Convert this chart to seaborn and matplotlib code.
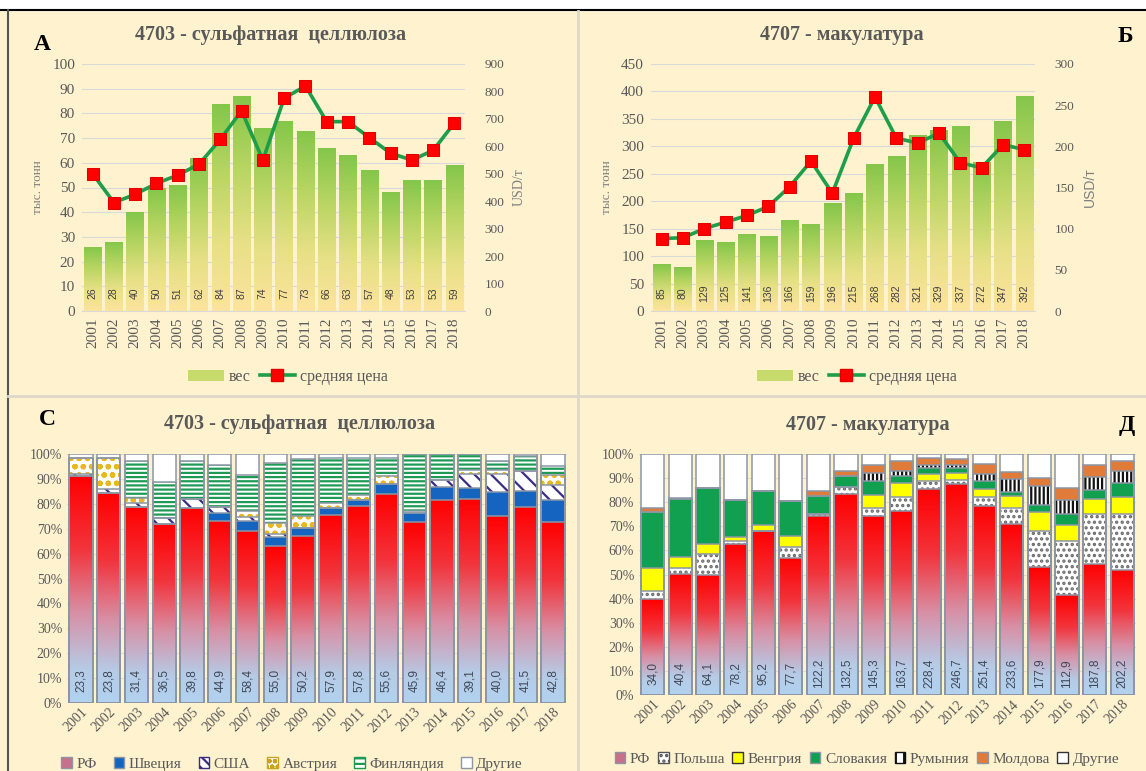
import matplotlib
matplotlib.use("Agg")
import matplotlib.pyplot as plt
import seaborn as sns
import numpy as np
from matplotlib.colors import LinearSegmentedColormap
from matplotlib.patches import Patch, Rectangle
from matplotlib.lines import Line2D

# Data
years = [str(y) for y in range(2001, 2019)]

# 4703 - сульфатная целлюлоза (тыс. тонн, USD/т)
pulp_weight = [26, 28, 40, 50, 51, 62, 84, 87, 74, 77, 73, 66, 63, 57, 48, 53, 53, 59]
pulp_price = [500, 395, 425, 465, 495, 535, 625, 730, 550, 775, 820, 690, 690, 632, 575, 550, 585, 685]

# 4707 - макулатура
waste_weight = [85, 80, 129, 125, 141, 136, 166, 159, 196, 215, 268, 282, 321, 329, 337, 272, 347, 392]
waste_price = [88, 89, 100, 108, 116, 127, 151, 182, 143, 210, 260, 210, 204, 216, 180, 174, 202, 196]

# shares of suppliers, % (pulp)
pulp_rf = [91, 84.3, 78.7, 72, 78.3, 73, 69.2, 63, 67.2, 75.6, 79, 84, 72.6, 81.7, 82, 75.2, 78.7, 72.6]
pulp_se = [0, 0, 0, 0, 0, 3.3, 3.8, 3.7, 3.1, 2.7, 2.7, 4, 3.7, 5, 4.3, 9.4, 6.3, 9.1]
pulp_us = [1, 1.7, 1.6, 2.3, 3.7, 2.4, 1.7, 1.3, 0, 0, 0, 0, 0, 3, 5.7, 7.5, 8, 6]
pulp_at = [6.5, 12.4, 2, 0, 0, 0, 2.3, 4.3, 4.9, 2, 2, 3, 0.7, 0, 1.4, 1.6, 0, 4]
pulp_fi = [0, 0, 15, 14.3, 15.3, 16.7, 14.7, 24.1, 22.8, 18.1, 14.7, 7.4, 23, 10.3, 6.6, 3.6, 6, 3.6]
pulp_other = [1.5, 1.6, 2.7, 11.4, 2.7, 4.6, 8.3, 3.6, 2, 1.6, 1.6, 1.6, 0, 0, 0, 2.7, 1, 4.7]
pulp_rf_labels = ["23,3", "23,8", "31,4", "36,5", "39,8", "44,9", "58,4", "55,0", "50,2",
                  "57,9", "57,8", "55,6", "45,9", "46,4", "39,1", "40,0", "41,5", "42,8"]

# shares of suppliers, % (waste paper)
waste_rf = [39.8, 50.3, 49.9, 62.7, 67.9, 57, 74.1, 83.4, 74.4, 76.2, 85.5, 87.7, 78.5, 71, 53, 41.3, 54.4, 51.7]
waste_pl = [3.2, 2.3, 8.7, 1, 0, 4.6, 0.9, 2.9, 3.2, 5.8, 3.1, 1.6, 3.6, 6.6, 14.9, 22.4, 20.7, 23.4]
waste_hu = [9.6, 4.6, 4, 1.8, 2.7, 4.4, 0, 0, 5.5, 5.9, 3.2, 2.8, 3.4, 4.8, 7.9, 6.9, 6.2, 6.9]
waste_sk = [23.2, 24.1, 23.3, 15.5, 13.9, 14.3, 7.7, 4.7, 5.5, 3.1, 2.4, 2.1, 3.1, 1.7, 3.1, 4.5, 3.9, 5.9]
waste_ro = [0, 0, 0, 0, 0, 0, 0, 0, 3.5, 2.1, 1.4, 1.4, 3.2, 5.7, 7.9, 5.9, 5.2, 5.2]
waste_md = [2, 0.4, 0, 0, 0, 0, 1.8, 2, 3.5, 4.1, 2.7, 2.3, 4, 2.7, 3.2, 4.9, 5.2, 3.9]
waste_other = [22.2, 18.3, 14.1, 19, 15.5, 19.7, 15.5, 7, 4.4, 2.8, 1.7, 2.1, 4.2, 7.5, 10, 14.1, 4.4, 3]
waste_rf_labels = ["34,0", "40,4", "64,1", "78,2", "95,2", "77,7", "122,2", "132,5", "145,3",
                   "163,7", "228,4", "246,7", "251,4", "233,6", "177,9", "112,9", "187,8", "202,2"]

# Style
BG = "#FEF2CF"
TXT = "#595959"
SERIF = "Liberation Serif"
plt.rcParams["font.family"] = SERIF
plt.rcParams["hatch.linewidth"] = 1.6

green_cmap = LinearSegmentedColormap.from_list("gy", ["#FDE49E", "#E6E085", "#B8D562", "#84C64A"])
rf_cmap = LinearSegmentedColormap.from_list(
    "rf", [(0, "#B1D2F0"), (0.15, "#B6CBE6"), (0.4, "#D88FA4"), (0.68, "#F2343C"), (1, "#FF0000")])
ramp = np.linspace(0, 1, 256).reshape(-1, 1)


def gradient_fill(ax, patches, cmap):
    xl, yl = ax.get_xlim(), ax.get_ylim()
    for p in patches:
        x0, y0, w, h = p.get_x(), p.get_y(), p.get_width(), p.get_height()
        if h <= 0:
            continue
        im = ax.imshow(ramp, cmap=cmap, origin="lower", aspect="auto",
                       extent=(x0, x0 + w, y0, y0 + h), zorder=p.get_zorder(),
                       interpolation="bilinear")
        im.set_clip_path(p)
        p.set_facecolor("none")
    ax.set_xlim(xl)
    ax.set_ylim(yl)


fig = plt.figure(figsize=(11.46, 7.71), dpi=100)
fig.patch.set_facecolor(BG)

# frame / separators
fig.add_artist(Rectangle((0, 1 - 10 / 771), 1, 10 / 771, transform=fig.transFigure, color="white", zorder=0))
fig.add_artist(Line2D([0, 1], [1 - 10 / 771] * 2, transform=fig.transFigure, color="black", lw=1.5))
fig.add_artist(Line2D([8 / 1146] * 2, [0, 1 - 10 / 771], transform=fig.transFigure, color="#555555", lw=1.5))
fig.add_artist(Line2D([8 / 1146, 1], [1 - 396 / 771] * 2, transform=fig.transFigure, color="#DDD8CA", lw=2))
fig.add_artist(Line2D([578 / 1146] * 2, [0, 1 - 11 / 771], transform=fig.transFigure, color="#DDD8CA", lw=2))


def weight_panel(rect, weight, price, ymax, ystep, pmax, pstep, label_y, sans_right=False):
    ax = fig.add_axes(rect)
    ax.set_facecolor("none")
    sns.barplot(x=years, y=weight, ax=ax, color="#A9D15C", saturation=1, width=0.82,
                linewidth=0, errorbar=None)
    ax.set_ylim(0, ymax)
    gradient_fill(ax, list(ax.patches), green_cmap)
    ax.set_yticks(np.arange(0, ymax + 1, ystep))
    ax.yaxis.grid(True, color="#D9D9D9", lw=0.8)
    ax.set_axisbelow(True)
    for s in ["top", "right", "left"]:
        ax.spines[s].set_visible(False)
    ax.spines["bottom"].set_color("#D9D9D9")
    ax.tick_params(length=0, labelsize=11, labelcolor=TXT, pad=5)
    ax.tick_params(axis="x", rotation=90)
    ax.set_xlabel("")
    ax.set_ylabel("тыс. тонн", fontsize=9.5, color="#7F7F7F", labelpad=6)
    for i, v in enumerate(weight):
        ax.text(i, label_y, str(v), rotation=90, ha="center", va="center",
                fontsize=7.5, color="#404040", family="Liberation Sans")

    ax2 = ax.twinx()
    sns.lineplot(x=np.arange(len(years)), y=price, ax=ax2, color="#1E9E48", lw=2.6,
                 marker="s", markersize=9, markerfacecolor="#FF0000", markeredgecolor="#E00000")
    ax2.set_ylim(0, pmax)
    ax2.set_yticks(np.arange(0, pmax + 1, pstep))
    for s in ax2.spines.values():
        s.set_visible(False)
    ax2.tick_params(length=0, labelsize=9.5, labelcolor=TXT, pad=14)
    ax2.set_ylabel("USD/т", fontsize=10, color="#7F7F7F", labelpad=6,
                   family="Liberation Sans" if sans_right else SERIF)
    ax.set_xlim(-0.5, len(years) - 0.5)
    return ax


axA = weight_panel([82 / 1146, 1 - 311 / 771, 383 / 1146, 247 / 771],
                   pulp_weight, pulp_price, 100, 10, 900, 100, 7.3)
axB = weight_panel([651 / 1146, 1 - 311 / 771, 384 / 1146, 247 / 771],
                   waste_weight, waste_price, 450, 50, 300, 50, 33, sans_right=True)

leg_handles = [Patch(facecolor="#C6DB6C", edgecolor="none"),
               Line2D([], [], color="#1E9E48", lw=2.6, marker="s", markersize=9,
                      markerfacecolor="#FF0000", markeredgecolor="#E00000")]
for cx in [288 / 1146, 857 / 1146]:
    fig.legend(leg_handles, ["вес", "средняя цена"], loc="center", bbox_to_anchor=(cx, 1 - 377 / 771),
               ncol=2, frameon=False, fontsize=11.5, handlelength=2.2, columnspacing=0.6,
               handletextpad=0.3, labelcolor=TXT)


def share_panel(rect, layers, styles, rf_labels, label_y):
    ax = fig.add_axes(rect)
    ax.set_facecolor("none")
    cum = np.cumsum(np.array(layers, dtype=float), axis=0)
    rf_patches = []
    # draw from the top of the stack down so that each layer covers the one above
    for k in range(len(layers) - 1, -1, -1):
        face, hatch, hcol = styles[k]
        n0 = len(ax.patches)
        sns.barplot(x=years, y=cum[k], ax=ax, color=face, saturation=1, width=0.84,
                    edgecolor=hcol, hatch=hatch, linewidth=0, errorbar=None)
        if k == 0:
            rf_patches = list(ax.patches[n0:])
    ax.set_ylim(0, 100)
    gradient_fill(ax, rf_patches, rf_cmap)
    # segment outlines
    for k in range(len(layers)):
        sns.barplot(x=years, y=cum[k], ax=ax, color="#8C96A5", saturation=1, width=0.84,
                    fill=False, linewidth=1.1, errorbar=None)
    ax.set_ylim(0, 100)
    ax.set_xlim(-0.5, len(years) - 0.5)
    ax.set_yticks(np.arange(0, 101, 10))
    ax.set_yticklabels([f"{v}%" for v in range(0, 101, 10)])
    ax.yaxis.grid(True, color="#E4DCC4", lw=0.8)
    ax.set_axisbelow(True)
    for s in ax.spines.values():
        s.set_visible(False)
    ax.tick_params(length=0, labelsize=10, labelcolor=TXT)
    ax.tick_params(axis="x", pad=2)
    for lab in ax.get_xticklabels():
        lab.set_rotation(45)
        lab.set_ha("right")
        lab.set_rotation_mode("anchor")
    ax.set_xlabel("")
    ax.set_ylabel("")
    for i, t in enumerate(rf_labels):
        ax.text(i, label_y, t, rotation=90, ha="center", va="center",
                fontsize=8.5, color="#3F4756", family="Liberation Sans", zorder=5)
    return ax


pulp_styles = [("#FF0000", "", "#FF0000"),
               ("#1565C0", "", "#1565C0"),
               ("white", "\\\\", "#3B2C84"),
               ("white", "oo", "#E8B81E"),
               ("white", "----", "#1E9A55"),
               ("white", "", "white")]
share_panel([67 / 1146, 1 - 703 / 771, 500 / 1146, 249 / 771],
            [pulp_rf, pulp_se, pulp_us, pulp_at, pulp_fi, pulp_other],
            pulp_styles, pulp_rf_labels, 9)

waste_styles = [("#FF0000", "", "#FF0000"),
                ("white", "...", "#6A6A6A"),
                ("#FFFF00", "", "#FFFF00"),
                ("#10A050", "", "#10A050"),
                ("white", "||||", "#111111"),
                ("#E07B39", "", "#E07B39"),
                ("white", "", "white")]
share_panel([639 / 1146, 1 - 695 / 771, 497 / 1146, 241 / 771],
            [waste_rf, waste_pl, waste_hu, waste_sk, waste_ro, waste_md, waste_other],
            waste_styles, waste_rf_labels, 9)

# legends of the share panels
edge = "#8C96A5"
pulp_handles = [Patch(facecolor="#C8708A", edgecolor=edge),
                Patch(facecolor="#1565C0", edgecolor=edge),
                Patch(facecolor="white", edgecolor="#3B2C84", hatch="\\\\\\"),
                Patch(facecolor="white", edgecolor="#C9A21E", hatch="ooo"),
                Patch(facecolor="white", edgecolor="#1E9A55", hatch="---"),
                Patch(facecolor="white", edgecolor=edge)]
fig.legend(pulp_handles, ["РФ", "Швеция", "США", "Австрия", "Финляндия", "Другие"],
           loc="center", bbox_to_anchor=(292 / 1146, 1 - 764 / 771), ncol=6, frameon=False,
           fontsize=11, handlelength=0.7, handleheight=0.7, handletextpad=0.3,
           columnspacing=1.1, labelcolor=TXT)

waste_handles = [Patch(facecolor="#C8708A", edgecolor=edge),
                 Patch(facecolor="white", edgecolor="#555555", hatch="..."),
                 Patch(facecolor="#FFFF00", edgecolor="#333333"),
                 Patch(facecolor="#10A050", edgecolor=edge),
                 Patch(facecolor="white", edgecolor="#111111", hatch="||"),
                 Patch(facecolor="#E07B39", edgecolor=edge),
                 Patch(facecolor="white", edgecolor="#333333")]
fig.legend(waste_handles, ["РФ", "Польша", "Венгрия", "Словакия", "Румыния", "Молдова", "Другие"],
           loc="center", bbox_to_anchor=(867 / 1146, 1 - 759 / 771), ncol=7, frameon=False,
           fontsize=11, handlelength=0.7, handleheight=0.7, handletextpad=0.3,
           columnspacing=0.5, labelcolor=TXT)

# titles and panel letters
title_kw = dict(fontsize=14.5, fontweight="bold", color=TXT, ha="center", va="center")
fig.text(271 / 1146, 1 - 35 / 771, "4703 - сульфатная  целлюлоза", **title_kw)
fig.text(842 / 1146, 1 - 35 / 771, "4707 - макулатура", **title_kw)
fig.text(300 / 1146, 1 - 424 / 771, "4703 - сульфатная  целлюлоза", **title_kw)
fig.text(868 / 1146, 1 - 425 / 771, "4707 - макулатура", **title_kw)

letter_kw = dict(fontsize=17, fontweight="bold", color="black", ha="center", va="center")
fig.text(42 / 1146, 1 - 44 / 771, "А", **letter_kw)
fig.text(1125 / 1146, 1 - 37 / 771, "Б", **letter_kw)
fig.text(47 / 1146, 1 - 420 / 771, "С", **letter_kw)
fig.text(1127 / 1146, 1 - 425 / 771, "Д", **letter_kw)

plt.savefig("out.png", dpi=100, facecolor=fig.get_facecolor())
